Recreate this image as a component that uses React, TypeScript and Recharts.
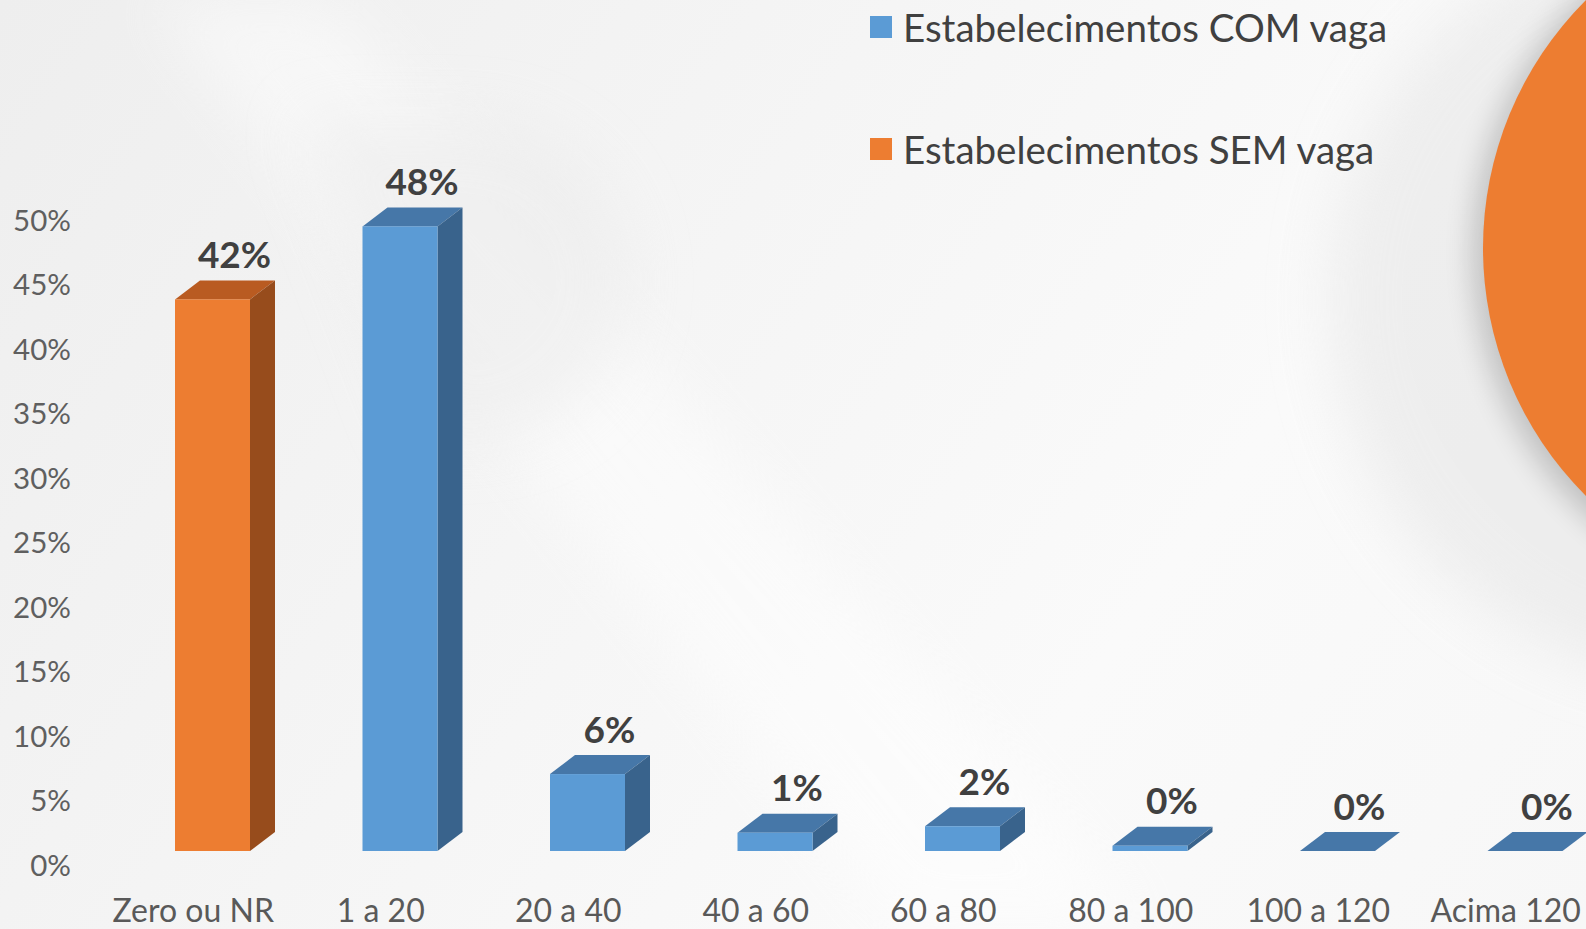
import { BarChart, Bar, XAxis, YAxis, Legend, LabelList } from 'recharts'

const categorias = ['Zero ou NR', '1 a 20', '20 a 40', '40 a 60', '60 a 80', '80 a 100', '100 a 120', 'Acima 120']
const comVaga = [null, 47.9, 5.9, 1.4, 1.9, 0.4, 0, 0]
const semVaga = [42.3, null, null, null, null, null, null, null]
const ticksY = [0, 5, 10, 15, 20, 25, 30, 35, 40, 45, 50]
const series = [
  { key: 'com', nome: 'Estabelecimentos COM vaga' },
  { key: 'sem', nome: 'Estabelecimentos SEM vaga' },
]

const data = categorias.map((nome, i) => ({ nome, com: comVaga[i], sem: semVaga[i] }))

const FONT = 'Lato, "Open Sans", sans-serif'

const cores: Record<string, { front: string; top: string; side: string }> = {
  com: { front: '#5B9BD5', top: '#4677A8', side: '#39638C' },
  sem: { front: '#ED7D31', top: '#B95B21', side: '#974C1C' },
}

// front face + top + right side, like the excel 3d column
const bar3d = (key: string) => (props: any) => {
  const { x, y, width, height, payload } = props
  if (!payload || payload[key] == null) return null
  const c = cores[key]
  const dx = 25
  const dy = 19
  const h = Math.max(height, 0)
  return (
    <g>
      <polygon
        points={`${x},${y} ${x + dx},${y - dy} ${x + width + dx},${y - dy} ${x + width},${y}`}
        fill={c.top}
      />
      <polygon
        points={`${x + width},${y} ${x + width + dx},${y - dy} ${x + width + dx},${y + h - dy} ${x + width},${y + h}`}
        fill={c.side}
      />
      {h > 0 && <rect x={x} y={y} width={width} height={h} fill={c.front} />}
    </g>
  )
}

const rotulo = (props: any) => {
  const { x, y, width } = props
  let value = props.value
  if (Array.isArray(value)) value = value[1] - value[0]
  if (value == null || Number.isNaN(Number(value))) return null
  return (
    <text
      x={Number(x) + Number(width) / 2 + 22}
      y={Number(y) - 46}
      textAnchor="middle"
      dominantBaseline="central"
      fill="#404040"
      fontSize={37}
      fontWeight="bold"
      fontFamily={FONT}
    >
      {Math.round(Number(value))}%
    </text>
  )
}

const TickY = ({ x, y, payload }: any) => (
  <text
    x={x}
    y={y + 13 + payload.value * 0.14}
    textAnchor="end"
    dominantBaseline="central"
    fill="#5f5f5f"
    fontSize={29.5}
    fontFamily={FONT}
  >
    {payload.value}%
  </text>
)

const TickX = ({ x, y, payload }: any) => (
  <text x={x - 19.5} y={y + 71} textAnchor="middle" fill="#595959" fontSize={32} fontFamily={FONT}>
    {payload.value}
  </text>
)

const Legenda = () => (
  <div style={{ position: 'relative', width: 600, height: 180, fontFamily: FONT }}>
    {series.map((s, i) => (
      <div
        key={s.key}
        style={{
          position: 'absolute',
          left: 0,
          top: 4 + i * 122,
          height: 46,
          display: 'flex',
          alignItems: 'center',
          color: '#404040',
          fontSize: 38.5,
          whiteSpace: 'nowrap',
        }}
      >
        <span style={{ display: 'inline-block', width: 22, height: 22, background: cores[s.key].front, marginRight: 11 }} />
        {s.nome}
      </div>
    ))}
  </div>
)

export default function App() {
  return (
    <div
      style={{
        position: 'fixed',
        left: 0,
        top: 0,
        width: 1586,
        height: 929,
        overflow: 'hidden',
        background: 'linear-gradient(125deg, #eeeeee 0%, #f5f5f5 40%, #fafafa 70%, #f7f7f7 100%)',
      }}
    >
      <svg width={1586} height={929} style={{ position: 'absolute', left: 0, top: 0 }}>
        <defs>
          <filter id="blur" x="-50%" y="-50%" width="200%" height="200%">
            <feGaussianBlur stdDeviation="14" />
          </filter>
          <filter id="blurBig" x="-50%" y="-50%" width="200%" height="200%">
            <feGaussianBlur stdDeviation="30" />
          </filter>
        </defs>
        <polygon points="150,0 330,0 1150,929 900,929" fill="#ffffff" opacity={0.45} filter="url(#blurBig)" />
        <path d="M 300 120 L 470 120 A 160 160 0 0 1 470 440 L 420 440 Z" fill="#ececec" opacity={0.6} filter="url(#blurBig)" />
        <circle cx={1710} cy={300} r={380} fill="#e9e9e9" opacity={0.7} filter="url(#blurBig)" />
        <circle cx={1829} cy={254} r={357} fill="#000000" opacity={0.18} filter="url(#blur)" />
        <circle cx={1833} cy={248} r={350} fill="#ED7D31" />
      </svg>
      <div style={{ position: 'absolute', left: 0, top: 0 }}>
        <BarChart width={1640} height={929} data={data} margin={{ top: 199, right: 21, left: 29, bottom: 18 }}>
          <XAxis
            dataKey="nome"
            axisLine={false}
            tickLine={false}
            tickSize={0}
            tickMargin={0}
            height={60}
            interval={0}
            tick={<TickX />}
          />
          <YAxis
            type="number"
            domain={[0, 50]}
            ticks={ticksY}
            axisLine={false}
            tickLine={false}
            tickSize={0}
            tickMargin={48}
            width={90}
            tick={<TickY />}
          />
          <Legend
            layout="vertical"
            align="center"
            verticalAlign="middle"
            wrapperStyle={{ top: 0, left: 870, width: 600 }}
            content={<Legenda />}
          />
          <Bar dataKey="com" name={series[0].nome} stackId="s" barSize={75} fill={cores.com.front} shape={bar3d('com')} isAnimationActive={false}>
            <LabelList dataKey="com" content={rotulo} />
          </Bar>
          <Bar dataKey="sem" name={series[1].nome} stackId="s" barSize={75} fill={cores.sem.front} shape={bar3d('sem')} isAnimationActive={false}>
            <LabelList dataKey="sem" content={rotulo} />
          </Bar>
        </BarChart>
      </div>
    </div>
  )
}
